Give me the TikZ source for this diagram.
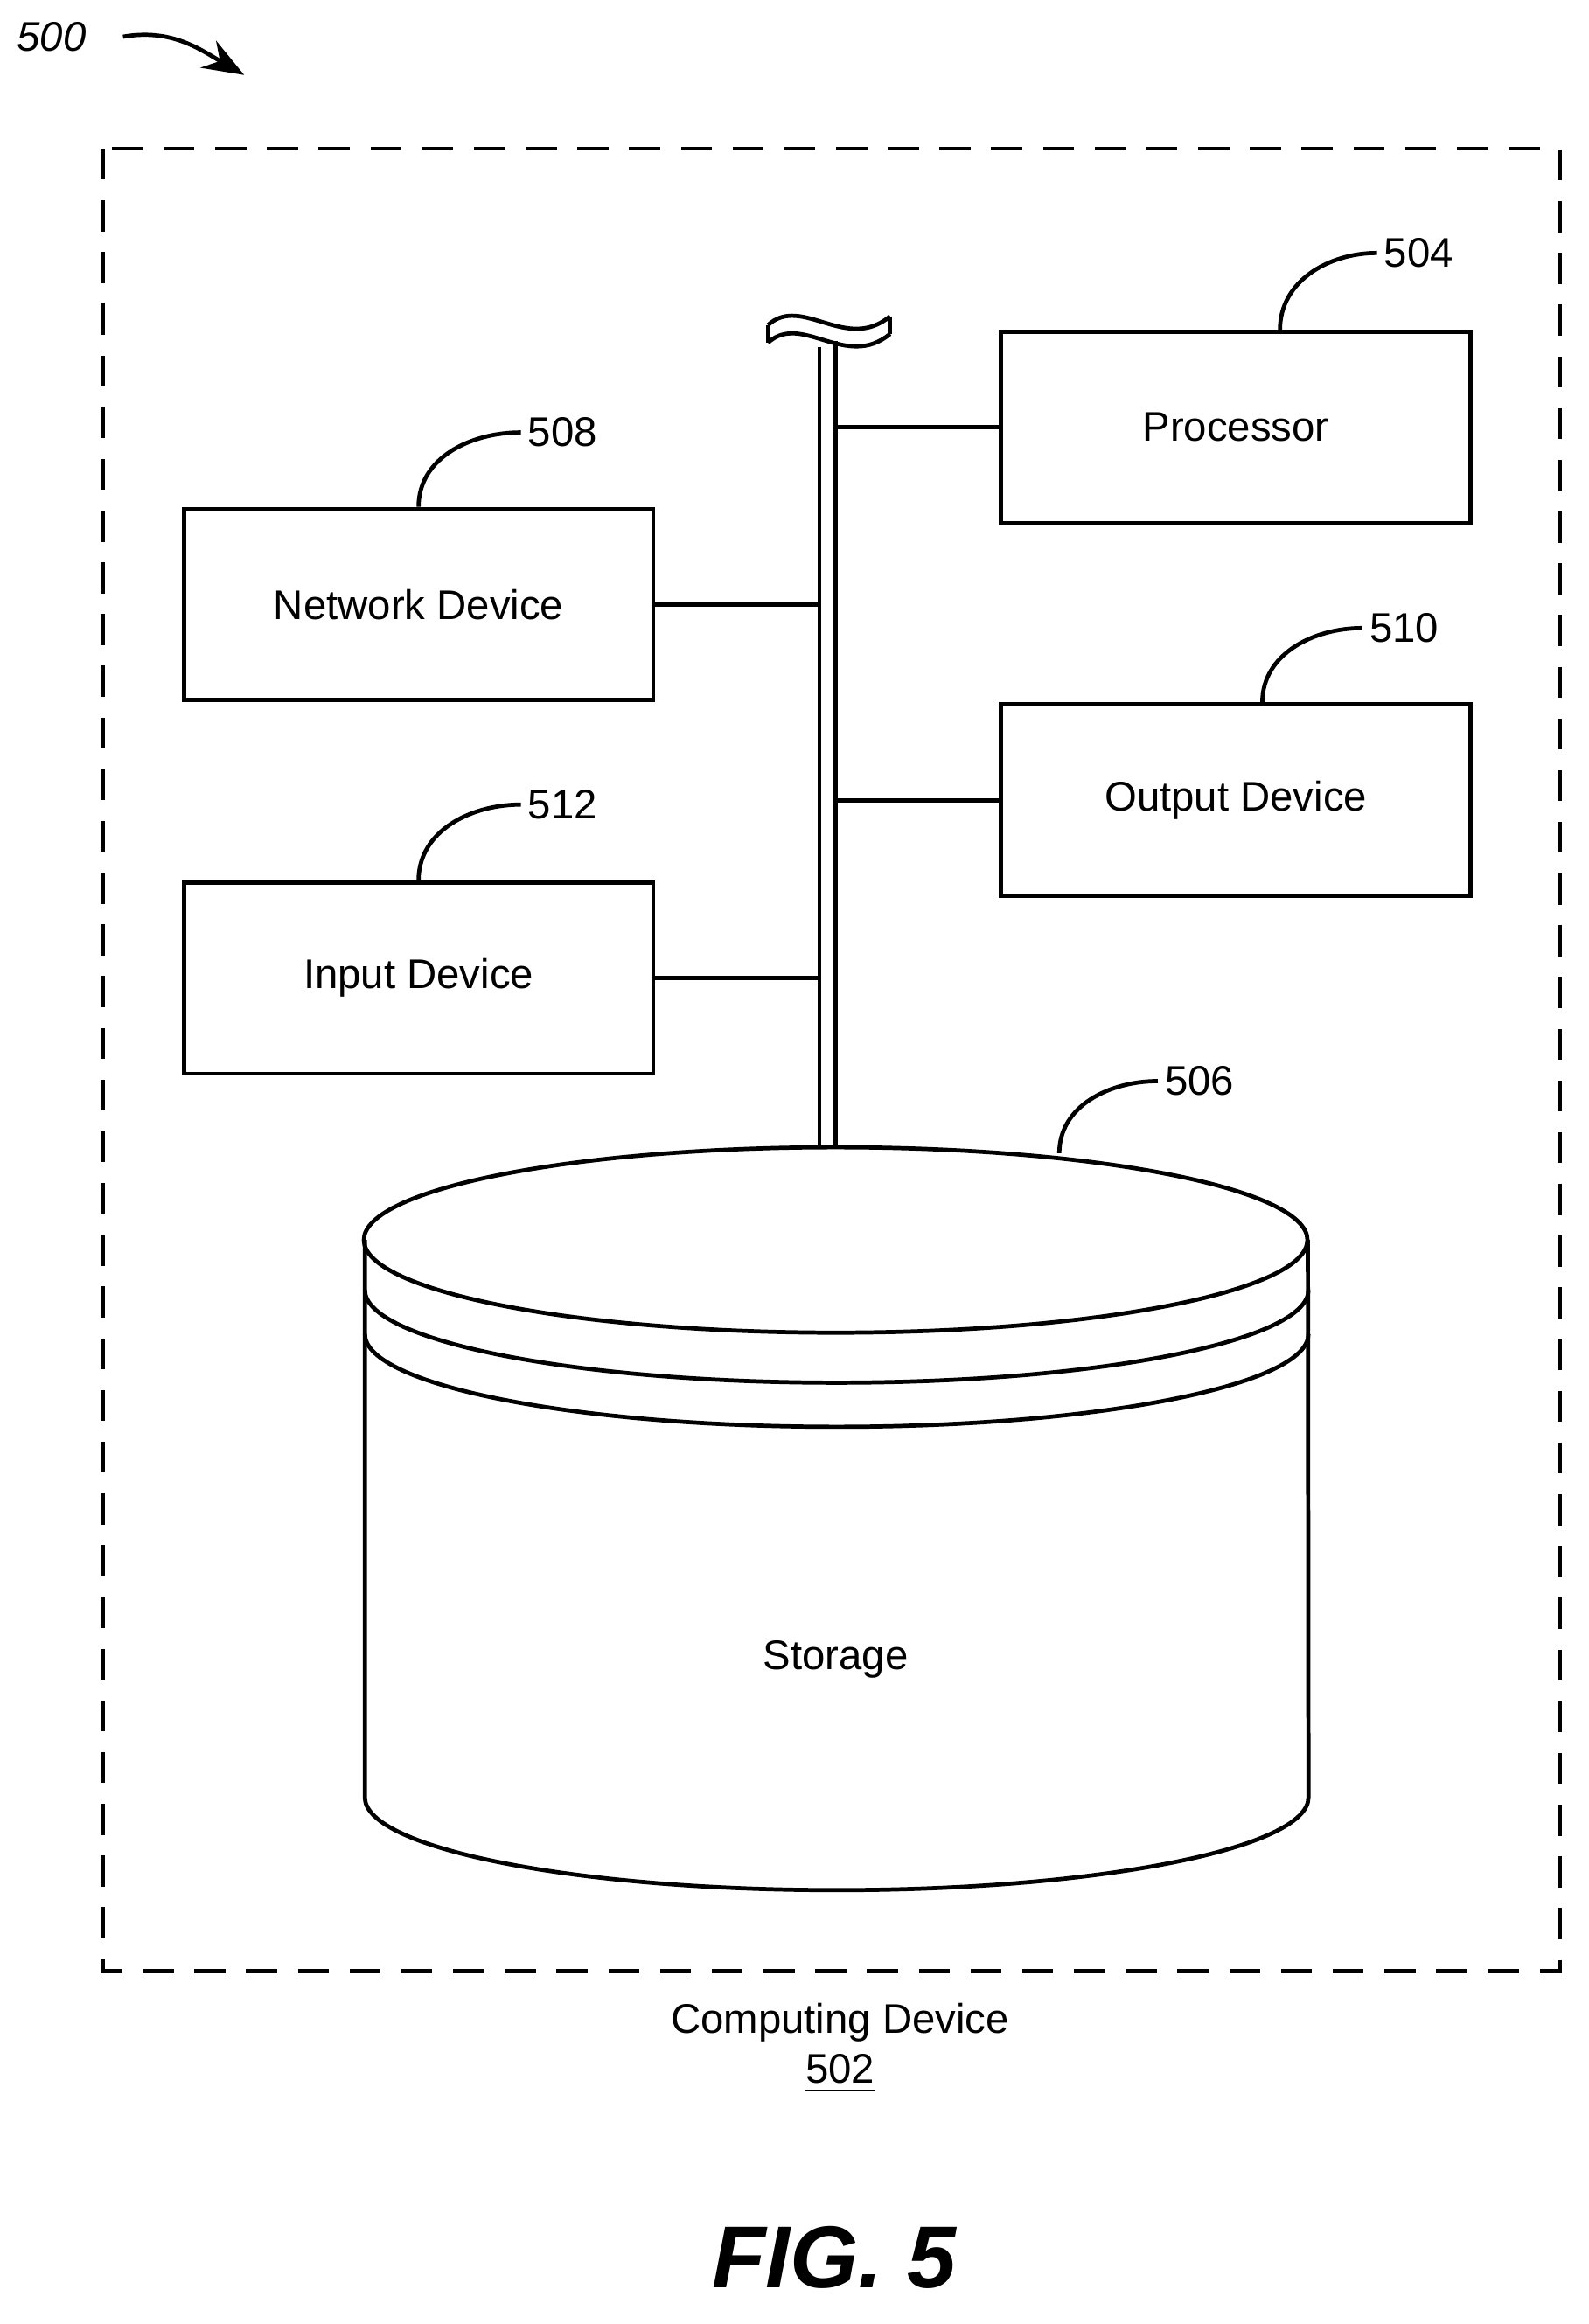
\documentclass[tikz,border=0pt]{standalone}
\usepackage{fontspec}
\setmainfont{Liberation Sans}
\usetikzlibrary{positioning,arrows.meta}

\begin{document}
\begin{tikzpicture}[x=0.01cm, y=-0.01cm, line width=0.8pt, font=\fontsize{8}{10}\selectfont,
		box/.style={draw, line width=0.8pt, minimum width=3.19cm, minimum height=1.30cm, inner sep=0pt},
		lead/.style={line width=0.8pt},
		ref/.style={inner sep=1pt}]
	\useasboundingbox (0,0) rectangle (1080,1580);
	% outer device
	\draw[dashed, dash pattern=on 6pt off 4pt] (70,101) rectangle (1060,1340);
	% blocks
	\node[box] (proc) at (840,290.5) {Processor};
	\node[box] (net) at (284.5,411) {Network Device};
	\node[box] (out) at (840,544) {Output Device};
	\node[box] (inp) at (284.5,665) {Input Device};
	% bus
	\coordinate (busL) at (557,236);
	\coordinate (busR) at (568,232);
	\draw (busL) -- (557,780);
	\draw (busR) -- (568,780);
	\draw (522,221) .. controls (545,200) and (575,240) .. (605,215);
	\draw (522,233) .. controls (545,212) and (575,252) .. (605,227);
	\draw (522,221) -- (522,233);
	\draw (605,215) -- (605,227);
	\draw (proc.west) -- (proc.west -| busR);
	\draw (out.west) -- (out.west -| busR);
	\draw (net.east) -- (net.east -| busL);
	\draw (inp.east) -- (inp.east -| busL);
	% storage
	\draw (568,843) ellipse[x radius=3.205cm, y radius=0.63cm];
	\draw (248,843) -- (248,1222) arc[start angle=180, end angle=360, x radius=3.205cm, y radius=0.63cm] -- (889,843);
	\draw (248,877) arc[start angle=180, end angle=360, x radius=3.205cm, y radius=0.63cm];
	\draw (248,907) arc[start angle=180, end angle=360, x radius=3.205cm, y radius=0.63cm];
	\node (stor) at (568,1128) {Storage};
	% reference numerals
	\node[ref, anchor=west] (n504) at (936,172) {504};
	\node[ref, anchor=west] (n508) at (354,294) {508};
	\node[ref, anchor=west] (n510) at (926,427) {510};
	\node[ref, anchor=west] (n512) at (354,547) {512};
	\node[ref, anchor=west] (n506) at (787,735) {506};
	\draw[lead] ([xshift=0.3cm]proc.north) to[out=90, in=180] (n504.west);
	\draw[lead] (net.north) to[out=90, in=180] (n508.west);
	\draw[lead] ([xshift=0.18cm]out.north) to[out=90, in=180] (n510.west);
	\draw[lead] (inp.north) to[out=90, in=180] (n512.west);
	\coordinate (stTop) at (720,784);
	\draw[lead] (stTop) to[out=90, in=180] (n506.west);
	% captions
	\node (n500) at (35,25) {\itshape 500};
	\coordinate (arr500) at (166,51);
	\draw[-{Stealth[length=8pt, width=6pt]}] ([xshift=0.12cm]n500.east) to[out=10, in=150] (arr500);
	\node (cap) at (571,1375) {Computing Device};
	\node (n502) at (571,1410) {\underline{502}};
	\node (fig) at (567,1535) {\fontsize{17}{20}\selectfont\bfseries\itshape FIG. 5};
\end{tikzpicture}
\end{document}
